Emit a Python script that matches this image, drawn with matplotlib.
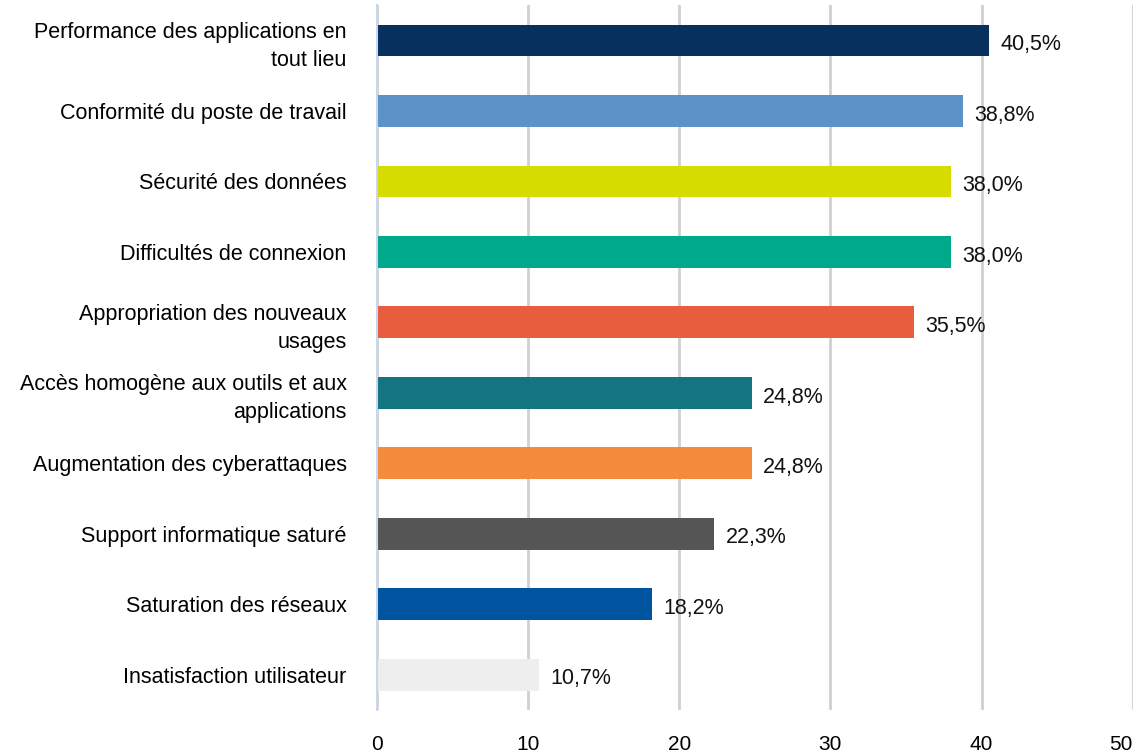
import matplotlib
matplotlib.use("Agg")
import matplotlib.pyplot as plt

categories = [
    "Performance des applications en\ntout lieu",
    "Conformité du poste de travail",
    "Sécurité des données",
    "Difficultés de connexion",
    "Appropriation des nouveaux\nusages",
    "Accès homogène aux outils et aux\napplications",
    "Augmentation des cyberattaques",
    "Support informatique saturé",
    "Saturation des réseaux",
    "Insatisfaction utilisateur",
]
values = [40.5, 38.8, 38.0, 38.0, 35.5, 24.8, 24.8, 22.3, 18.2, 10.7]
labels = ["40,5%", "38,8%", "38,0%", "38,0%", "35,5%", "24,8%", "24,8%", "22,3%", "18,2%", "10,7%"]
colors = ["#08305E", "#5B93C9", "#D6DC00", "#00A98A", "#E95D3F",
          "#127580", "#F28C3C", "#555555", "#0054A0", "#EEEEEE"]
xticks = [0, 10, 20, 30, 40, 50]

plt.rcParams['font.family'] = ['Liberation Sans', 'DejaVu Sans']

fig = plt.figure(figsize=(11.36, 7.52), dpi=100)
ax = fig.add_axes([0.332, 0.056, 0.665, 0.937])

ypos = list(range(len(categories)))
ax.barh(ypos, values, height=0.45, color=colors, zorder=3)
for y, v, l in zip(ypos, values, labels):
    ax.text(v + 0.75, y + 0.06, l, va="center", ha="left", fontsize=15.5, color="#111111")

ax.set_ylim(len(categories) - 0.5, -0.5)
ax.set_xlim(0, 50)
ax.set_yticks(ypos)
ax.set_yticklabels(categories, fontsize=15.5, ha="right")
for t in ax.get_yticklabels():
    t.set_linespacing(1.42)
ax.set_xticks(xticks)
ax.set_xticklabels([str(t) for t in xticks], fontsize=15)
xtl = ax.get_xticklabels()
xtl[-1].set_ha("right")
ax.tick_params(axis="both", length=0)
ax.tick_params(axis="y", pad=22)
ax.tick_params(axis="x", pad=18)

ax.grid(axis="x", color="#D0D0D0", linewidth=2, zorder=0)
for s in ["top", "right", "bottom"]:
    ax.spines[s].set_visible(False)
ax.spines["left"].set_color("#C8D6EE")
ax.spines["left"].set_linewidth(1.5)
ax.spines["left"].set_zorder(4)

fig.savefig("out.png", dpi=100)
